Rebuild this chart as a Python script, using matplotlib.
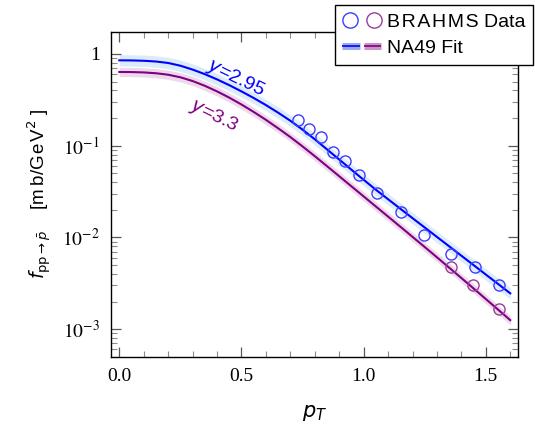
import numpy as np
import matplotlib
matplotlib.use("Agg")
import matplotlib.pyplot as plt
from matplotlib.lines import Line2D
from matplotlib.legend_handler import HandlerTuple, HandlerBase
from matplotlib.ticker import FixedLocator, NullFormatter, FixedFormatter

# ---- data ----
pt_grid = [0.00, 0.05, 0.10, 0.15, 0.20, 0.25, 0.30, 0.35, 0.40, 0.45, 0.50, 0.55,
           0.60, 0.65, 0.70, 0.75, 0.80, 0.85, 0.90, 0.95, 1.00, 1.05, 1.10, 1.15,
           1.20, 1.25, 1.30, 1.35, 1.40, 1.45, 1.50, 1.55, 1.60]
# log10 of the NA49 fit curves
fit_y295_log = [-0.069, -0.070, -0.074, -0.082, -0.098, -0.128, -0.170, -0.220, -0.277,
                -0.340, -0.408, -0.480, -0.557, -0.640, -0.728, -0.825, -0.930, -1.040,
                -1.151, -1.262, -1.372, -1.480, -1.584, -1.687, -1.790, -1.892, -1.995,
                -2.097, -2.200, -2.302, -2.405, -2.507, -2.610]
fit_y33_log = [-0.196, -0.197, -0.201, -0.210, -0.226, -0.254, -0.295, -0.347, -0.408,
               -0.476, -0.551, -0.632, -0.718, -0.810, -0.906, -1.008, -1.114, -1.223,
               -1.333, -1.443, -1.553, -1.663, -1.773, -1.883, -1.994, -2.105, -2.217,
               -2.330, -2.443, -2.557, -2.672, -2.787, -2.902]
band_y295 = 0.062   # half width of the uncertainty band, decades
band_y33 = 0.05

brahms_y295_pt = [0.730, 0.777, 0.824, 0.876, 0.922, 0.982, 1.055, 1.153, 1.248, 1.359, 1.454, 1.552]
brahms_y295_f = [0.192, 0.152, 0.123, 0.085, 0.068, 0.0485, 0.0308, 0.0188, 0.0106, 0.0066, 0.0048, 0.0030]
brahms_y33_pt = [1.359, 1.449, 1.552]
brahms_y33_f = [0.0047, 0.0030, 0.00167]

xticks = [0.0, 0.5, 1.0, 1.5]
xtick_labels = ["0.0", "0.5", "1.0", "1.5"]
yticks = [1e-3, 1e-2, 1e-1, 1.0]
ytick_labels = [r"$10^{-3}$", r"$10^{-2}$", r"$10^{-1}$", "1"]

blue = "#0000ff"
purple = "#800080"
blue_band = "#dcebfa"
purple_band = "#ecd9ec"
blue_mk = "#3c3cff"
purple_mk = "#993d99"

sans = ['Liberation Sans', 'DejaVu Sans']

fig = plt.figure(figsize=(5.35, 4.29), dpi=100)
ax = fig.add_axes([0.2075, 0.1685, 0.9688 - 0.2075, 0.9261 - 0.1685])

x = np.array(pt_grid)
yb = 10 ** np.array(fit_y295_log)
yp = 10 ** np.array(fit_y33_log)

ax.fill_between(x, yb * 10 ** (-band_y295), yb * 10 ** band_y295, color=blue_band, lw=0, zorder=1)
ax.fill_between(x, yp * 10 ** (-band_y33), yp * 10 ** band_y33, color=purple_band, lw=0, zorder=1)
ax.plot(x, yb, color=blue, lw=1.5, zorder=3)
ax.plot(x, yp, color=purple, lw=1.5, zorder=3)

ax.plot(brahms_y295_pt, brahms_y295_f, 'o', mfc='none', mec=blue_mk, ms=8, mew=1.0, zorder=4)
ax.plot(brahms_y33_pt, brahms_y33_f, 'o', mfc='none', mec=purple_mk, ms=8, mew=1.0, zorder=4)

ax.set_yscale('log')
ax.set_xlim(-0.034, 1.633)
ax.set_ylim(5.0e-4, 1.75)

ax.xaxis.set_major_locator(FixedLocator(xticks))
ax.xaxis.set_major_formatter(FixedFormatter(xtick_labels))
ax.xaxis.set_minor_locator(FixedLocator(np.arange(0, 1.65, 0.1)))
ax.yaxis.set_major_locator(FixedLocator(yticks))
ax.yaxis.set_major_formatter(FixedFormatter(ytick_labels))
minors = []
for d in [1e-4, 1e-3, 1e-2, 1e-1, 1.0]:
    for k in range(2, 10):
        minors.append(k * d)
ax.yaxis.set_minor_locator(FixedLocator(minors))
ax.yaxis.set_minor_formatter(NullFormatter())

ax.tick_params(which='both', direction='in', top=True, right=True, color='0.35')
ax.tick_params(which='major', length=7, width=0.9)
ax.tick_params(which='minor', length=4, width=0.8, color='0.55')
ax.tick_params(axis='both', which='major', labelsize=14, pad=8)
for lab in ax.get_xticklabels() + ax.get_yticklabels():
    lab.set_fontfamily('Liberation Serif')
    lab.set_math_fontfamily('stix')

for sp in ax.spines.values():
    sp.set_linewidth(1.0)
    sp.set_color('black')

ax.set_xlabel(r"$p_T$", fontsize=15, labelpad=13)
ax.set_ylabel("$f_{\\mathrm{pp}\\rightarrow\\bar{p}}$    [m\u2009b/G\u200ae\u200aV$^2$ ]",
              fontsize=13.5, labelpad=6, family=sans)

ax.text(0.478, 0.54, "$y$=2.95", color=blue, fontsize=14, rotation=-26,
        ha='center', va='center', rotation_mode='anchor', zorder=5, family=sans)
ax.text(0.388, 0.211, "$y$=3.3", color=purple, fontsize=14, rotation=-26,
        ha='center', va='center', rotation_mode='anchor', zorder=5, family=sans)


class BandPairHandler(HandlerBase):
    def create_artists(self, legend, orig_handle, xdescent, ydescent, width, height, fontsize, trans):
        arts = []
        w = width / 2.0 - 1.5
        for i, (band, line) in enumerate(orig_handle):
            x0 = -xdescent + i * (w + 3)
            yc = height / 2.0 - ydescent
            b = Line2D([x0, x0 + w], [yc, yc], color=band.get_color(), lw=band.get_linewidth(),
                       solid_capstyle='butt', transform=trans)
            l = Line2D([x0, x0 + w], [yc, yc], color=line.get_color(), lw=line.get_linewidth(),
                       solid_capstyle='butt', transform=trans)
            arts += [b, l]
        return arts


h_pts = (Line2D([], [], ls='none', marker='o', mfc='none', mec=blue_mk, ms=11, mew=1.0),
         Line2D([], [], ls='none', marker='o', mfc='none', mec=purple_mk, ms=11, mew=1.0))
h_fit = ((Line2D([], [], color='#9aa8f0', lw=5),
          Line2D([], [], color=blue, lw=1.2)),
         (Line2D([], [], color='#c894c8', lw=5),
          Line2D([], [], color=purple, lw=1.2)))

leg = fig.legend([h_pts, h_fit],
                 ["B\u200aR\u200aA\u200aH\u200aM\u200aS Data", "NA49 Fit"],
                 handler_map={h_pts: HandlerTuple(ndivide=None, pad=0.4),
                              h_fit: BandPairHandler()},
                 loc='upper right', bbox_to_anchor=(0.997, 0.988),
                 frameon=True, fancybox=False, edgecolor='black', framealpha=1,
                 prop={'family': sans, 'size': 14}, handlelength=2.0, handletextpad=0.3,
                 borderpad=0.4, labelspacing=0.45, borderaxespad=0.0)
leg.get_frame().set_linewidth(1.0)

fig.savefig("out.png", dpi=100)
